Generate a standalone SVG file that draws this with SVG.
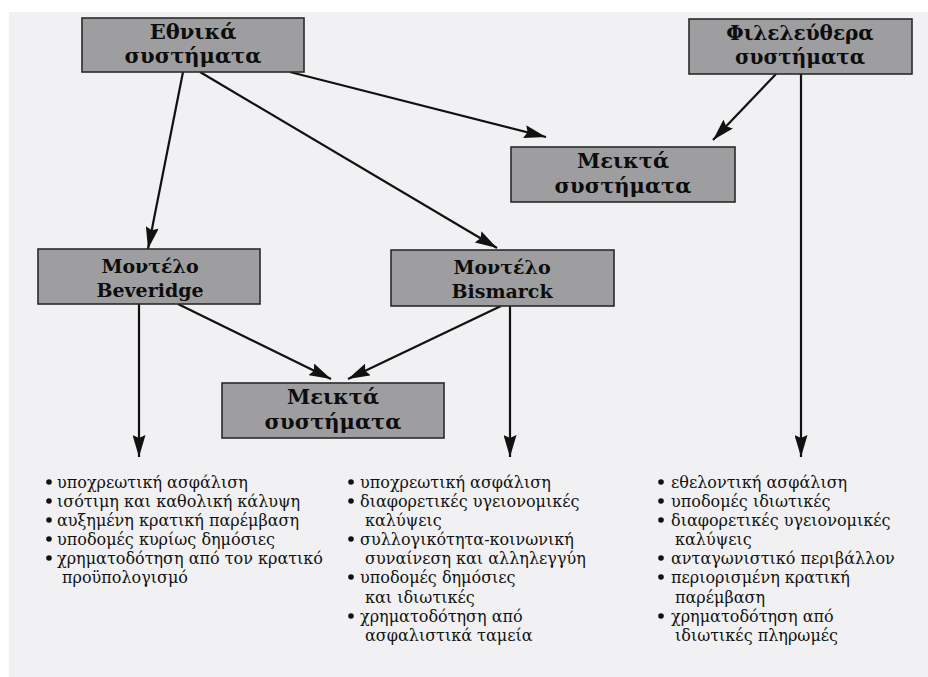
<svg xmlns="http://www.w3.org/2000/svg" width="928" height="677" viewBox="0 0 928 677">
<defs>
<marker id="ah" viewBox="0 0 22 13" refX="22" refY="6.5" markerWidth="22" markerHeight="13" markerUnits="userSpaceOnUse" orient="auto">
<path d="M0,0 L22,6.5 L0,13 L3,6.5 Z" fill="#111"/>
</marker>
</defs>
<style>
.box{fill:#9e9ea0;stroke:#2a2a2a;stroke-width:1.6}
.t{font-family:"DejaVu Serif","Liberation Serif",serif;font-weight:bold;fill:#0d0d0d;text-anchor:middle}
.l{font-family:"DejaVu Serif","Liberation Serif",serif;font-size:16px;fill:#111}
.dot{fill:#111}
.c{stroke:#111;stroke-width:2.2;fill:none;marker-end:url(#ah)}
</style>
<rect x="0" y="0" width="928" height="677" fill="#ffffff"/>
<rect x="9" y="12" width="919" height="665" fill="#f1f1f3"/>

<g id="connectors">
<line class="c" x1="183" y1="72" x2="148" y2="249"/>
<line class="c" x1="200" y1="72" x2="497" y2="248"/>
<line class="c" x1="290" y1="72" x2="546" y2="137"/>
<line class="c" x1="776" y1="74" x2="713" y2="140"/>
<line class="c" x1="801" y1="74" x2="801" y2="457"/>
<line class="c" x1="510" y1="306" x2="510" y2="457"/>
<line class="c" x1="139" y1="304" x2="139" y2="457"/>
<line class="c" x1="178" y1="304" x2="331" y2="379"/>
<line class="c" x1="501" y1="306" x2="348" y2="379"/>
</g>

<g id="ethnika">
<rect class="box" x="82" y="18" width="222" height="54"/>
<text class="t" x="193" y="39" font-size="21">Εθνικά</text>
<text class="t" x="193" y="63" font-size="21">συστήματα</text>
</g>

<g id="fileleythera">
<rect class="box" x="689" y="19" width="223" height="55"/>
<text class="t" x="800" y="40" font-size="20">Φιλελεύθερα</text>
<text class="t" x="800" y="64" font-size="20">συστήματα</text>
</g>

<g id="meikta-top">
<rect class="box" x="511" y="147" width="224" height="55"/>
<text class="t" x="623" y="168" font-size="21">Μεικτά</text>
<text class="t" x="623" y="193" font-size="21">συστήματα</text>
</g>

<g id="beveridge">
<rect class="box" x="38" y="249" width="222" height="55"/>
<text class="t" x="150" y="273" font-size="19">Μοντέλο</text>
<text class="t" x="150" y="297" font-size="19">Beveridge</text>
</g>

<g id="bismarck">
<rect class="box" x="391" y="250" width="223" height="56"/>
<text class="t" x="502" y="274" font-size="19">Μοντέλο</text>
<text class="t" x="502" y="298" font-size="19">Bismarck</text>
</g>

<g id="meikta-bottom">
<rect class="box" x="222" y="383" width="222" height="55"/>
<text class="t" x="333" y="404" font-size="21">Μεικτά</text>
<text class="t" x="333" y="429" font-size="21">συστήματα</text>
</g>

<g id="list-beveridge">
<g class="dot">
<circle cx="49" cy="482" r="2.8"/>
<circle cx="49" cy="501" r="2.8"/>
<circle cx="49" cy="520" r="2.8"/>
<circle cx="49" cy="539" r="2.8"/>
<circle cx="49" cy="558" r="2.8"/>
</g>
<g class="l">
<text x="57" y="488">υποχρεωτική ασφάλιση</text>
<text x="57" y="507">ισότιμη και καθολική κάλυψη</text>
<text x="57" y="526">αυξημένη κρατική παρέμβαση</text>
<text x="57" y="545">υποδομές κυρίως δημόσιες</text>
<text x="57" y="564">χρηματοδότηση από τον κρατικό</text>
<text x="62" y="583">προϋπολογισμό</text>
</g>
</g>

<g id="list-bismarck">
<g class="dot">
<circle cx="351" cy="482" r="2.8"/>
<circle cx="351" cy="501" r="2.8"/>
<circle cx="351" cy="539" r="2.8"/>
<circle cx="351" cy="577" r="2.8"/>
<circle cx="351" cy="616" r="2.8"/>
</g>
<g class="l">
<text x="360" y="488">υποχρεωτική ασφάλιση</text>
<text x="360" y="507">διαφορετικές υγειονομικές</text>
<text x="365" y="526">καλύψεις</text>
<text x="360" y="545">συλλογικότητα-κοινωνική</text>
<text x="365" y="564">συναίνεση και αλληλεγγύη</text>
<text x="360" y="583">υποδομές δημόσιες</text>
<text x="365" y="603">και ιδιωτικές</text>
<text x="360" y="622">χρηματοδότηση από</text>
<text x="365" y="641">ασφαλιστικά ταμεία</text>
</g>
</g>

<g id="list-liberal">
<g class="dot">
<circle cx="661" cy="482" r="2.8"/>
<circle cx="661" cy="501" r="2.8"/>
<circle cx="661" cy="520" r="2.8"/>
<circle cx="661" cy="558" r="2.8"/>
<circle cx="661" cy="577" r="2.8"/>
<circle cx="661" cy="616" r="2.8"/>
</g>
<g class="l">
<text x="671" y="488">εθελοντική ασφάλιση</text>
<text x="671" y="507">υποδομές ιδιωτικές</text>
<text x="671" y="526">διαφορετικές υγειονομικές</text>
<text x="675" y="545">καλύψεις</text>
<text x="671" y="564">ανταγωνιστικό περιβάλλον</text>
<text x="671" y="583">περιορισμένη κρατική</text>
<text x="675" y="603">παρέμβαση</text>
<text x="671" y="622">χρηματοδότηση από</text>
<text x="675" y="641">ιδιωτικές πληρωμές</text>
</g>
</g>
</svg>
